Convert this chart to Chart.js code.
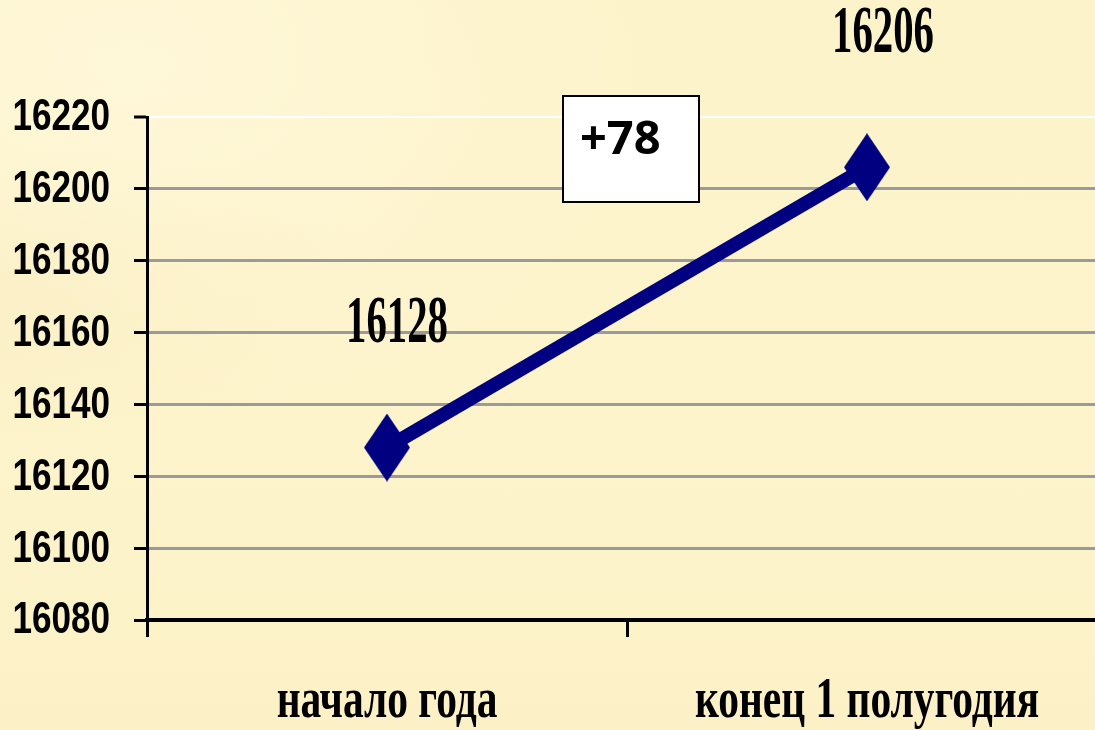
<!DOCTYPE html>
<html>
<head>
<meta charset="utf-8">
<script src="https://cdn.jsdelivr.net/npm/chart.js@4"></script>
<style>
  html, body { margin: 0; padding: 0; overflow: hidden; }
  body {
    width: 1095px; height: 730px;
    background:
      radial-gradient(ellipse at 12% 8%, rgba(255,250,225,0.6), rgba(255,250,225,0) 40%),
      radial-gradient(ellipse at 0% 40%, rgba(240,220,160,0.25), rgba(240,220,160,0) 25%),
      linear-gradient(180deg, #fdf3ca 0%, #fdf4cc 60%, #fcf1c6 100%);
  }
  #chartCanvas { display: block; }
</style>
</head>
<body>
<canvas id="chartCanvas" width="1110" height="730"></canvas>
<script>
const categories = ['начало года', 'конец 1 полугодия'];
const values = [16128, 16206];
const yMin = 16080;
const yMax = 16220;
const yStep = 20;
const diffText = '+78';

// label nudges in px (manual placement as in the source slide)
const labelOffsets = [[10, -123], [16, -133]];

// tall navy diamond used as the point marker
function makeDiamond(w, h, color) {
  const c = document.createElement('canvas');
  c.width = w; c.height = h;
  const ctx = c.getContext('2d');
  ctx.fillStyle = color;
  ctx.beginPath();
  ctx.moveTo(w / 2, 0);
  ctx.lineTo(w, h / 2);
  ctx.lineTo(w / 2, h);
  ctx.lineTo(0, h / 2);
  ctx.closePath();
  ctx.fill();
  return c;
}

const diamond = makeDiamond(46, 68, '#000080');

function drawSquished(ctx, text, x, y, font, sx, align) {
  ctx.save();
  ctx.translate(x, y);
  ctx.scale(sx, 1);
  ctx.font = font;
  ctx.textAlign = align;
  ctx.textBaseline = 'middle';
  ctx.fillStyle = '#000';
  ctx.fillText(text, 0, 0);
  ctx.restore();
}

const textPlugin = {
  id: 'textPlugin',
  afterDraw(chart) {
    const ctx = chart.ctx;
    const xs = chart.scales.x;
    const ys = chart.scales.y;

    // y tick labels
    ys.ticks.forEach(t => {
      drawSquished(ctx, String(t.value), 110, ys.getPixelForValue(t.value) + 1,
        'bold 45px "Liberation Sans"', 0.78, 'right');
    });

    // category labels
    categories.forEach((c, i) => {
      drawSquished(ctx, c, xs.getPixelForValue(i), 703,
        'bold 56px "Liberation Serif"', 0.74, 'center');
    });

    // data labels
    const meta = chart.getDatasetMeta(0);
    meta.data.forEach((pt, i) => {
      const [dx, dy] = labelOffsets[i];
      drawSquished(ctx, String(values[i]), pt.x + dx, pt.y + dy,
        'bold 68px "Liberation Serif"', 0.6, 'center');
    });

    // difference box
    ctx.save();
    ctx.fillStyle = '#ffffff';
    ctx.strokeStyle = '#000';
    ctx.lineWidth = 2;
    ctx.fillRect(563, 96, 136, 106);
    ctx.strokeRect(563, 96, 136, 106);
    ctx.fillStyle = '#000';
    ctx.font = 'bold 47px "Open Sans"';
    ctx.textAlign = 'left';
    ctx.textBaseline = 'middle';
    ctx.fillText(diffText, 580, 141);
    ctx.restore();
  }
};

new Chart(document.getElementById('chartCanvas'), {
  type: 'line',
  data: {
    labels: categories,
    datasets: [{
      data: values,
      borderColor: '#000080',
      backgroundColor: '#000080',
      borderWidth: 14,
      pointStyle: diamond,
      pointRadius: 30,
      pointHoverRadius: 30,
      tension: 0
    }]
  },
  options: {
    responsive: false,
    animation: false,
    events: [],
    layout: { autoPadding: false, padding: { top: 117, right: 3, left: 0, bottom: 0 } },
    plugins: {
      legend: { display: false },
      tooltip: { enabled: false }
    },
    scales: {
      x: {
        offset: true,
        grid: {
          offset: true,
          drawOnChartArea: false,
          drawTicks: true,
          tickLength: 17,
          tickColor: '#000',
          tickWidth: 3
        },
        border: { color: '#000', width: 4 },
        ticks: { display: false },
        afterFit(scale) { scale.height = 110; }
      },
      y: {
        min: yMin,
        max: yMax,
        ticks: { display: false, stepSize: yStep },
        grid: {
          color: ctx => ctx.tick && ctx.tick.value === yMax ? '#ffffff' : '#9a9a9a',
          lineWidth: ctx => ctx.tick && ctx.tick.value === yMax ? 2 : 3,
          tickColor: '#000',
          tickLength: 13,
          tickWidth: 3
        },
        border: { color: '#000', width: 3 },
        afterFit(scale) { scale.width = 147; }
      }
    }
  },
  plugins: [textPlugin]
});
</script>
</body>
</html>
